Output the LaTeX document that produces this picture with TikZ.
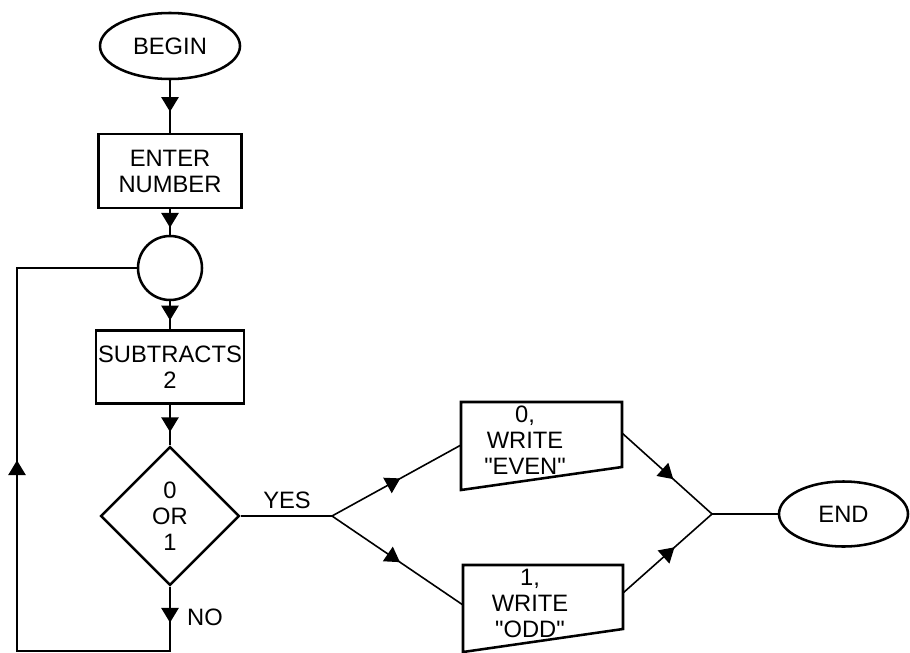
\documentclass[tikz,border=0pt]{standalone}
\usepackage{fontspec}
\setmainfont{Liberation Sans}
\usetikzlibrary{arrows.meta,decorations.markings,positioning,calc,shapes.geometric}

\begin{document}
\begin{tikzpicture}[
  x=0.75pt, y=-0.75pt,
  every node/.style={font=\fontsize{17.8}{19.5}\selectfont, align=center, inner sep=0pt},
  term/.style={ellipse, draw, line width=1.9pt},
  proc/.style={rectangle, draw, line width=1.9pt},
  decision/.style={diamond, draw, line width=1.9pt, aspect=1, minimum width=104pt, minimum height=104pt},
  outbox/.style={draw, line width=1.9pt},
  flowtip/.tip={Triangle[length=11pt, width=13pt]},
  midarrow/.style={postaction={decorate}, decoration={markings, mark=at position #1 with {\arrow{flowtip}}}},
  line width=1.2pt
]
\useasboundingbox (0,0) rectangle (910,653);

% Main column
\node[term, minimum width=105pt, minimum height=49.5pt] (begin) at (170,46) {BEGIN};
\node[proc, minimum width=107pt, minimum height=55.5pt] (enter) at (170,171) {ENTER\\NUMBER};
\node[circle, draw, line width=1.9pt, minimum size=48pt] (join) at (170,268) {};
\node[proc, minimum width=111pt, minimum height=54.75pt] (sub) at (170,367) {SUBTRACTS\\2};
\node[decision] (test) at (170,516) {0\\OR\\1};

\draw[midarrow=0.6] (begin) -- (enter);
\draw[midarrow=0.72] (enter) -- (join);
\draw[midarrow=0.68] (join) -- (sub);
\draw[midarrow=0.67] (sub) -- (test);

% Loop back
\coordinate (loop) at (17,651);
\draw[postaction={decorate}, decoration={markings,
    mark=at position 27pt with {\arrow{flowtip}},
    mark=at position 306pt with {\arrow{flowtip}}}]
  (test.south) |- (loop) |- (join.west);
\node (no) at (205,617) {NO};

% Branches
\coordinate (split) at (332,516);
\coordinate (merge) at (712,514);
\draw (test.east) -- (split);
\node (yes) at (287,500) {YES};

\node (even) at (525,440) {0,\\WRITE\\\textquotedbl EVEN\textquotedbl};
\draw[outbox] ($(even)+(-64,-38)$) -- ++(161,0) -- ++(0,65) -- ($(even)+(-64,50)$) -- cycle;
\coordinate (even-in) at ($(even)+(-64,5)$);
\coordinate (even-out) at ($(even)+(97,-7)$);

\node (odd) at (530,603) {1,\\WRITE\\\textquotedbl ODD\textquotedbl};
\draw[outbox] ($(odd)+(-67,-38)$) -- ++(160,0) -- ++(0,64) -- ($(odd)+(-67,49)$) -- cycle;
\coordinate (odd-in) at ($(odd)+(-67,2)$);
\coordinate (odd-out) at ($(odd)+(93,-10)$);

\draw[midarrow=0.53] (split) -- (even-in);
\draw[midarrow=0.52] (split) -- (odd-in);
\draw[midarrow=0.57] (even-out) -- (merge);
\draw[midarrow=0.58] (odd-out) -- (merge);

% End
\node[term, minimum width=96.75pt, minimum height=48.75pt] (end) at (843.5,514) {END};
\draw (merge) -- (end);

\end{tikzpicture}
\end{document}
